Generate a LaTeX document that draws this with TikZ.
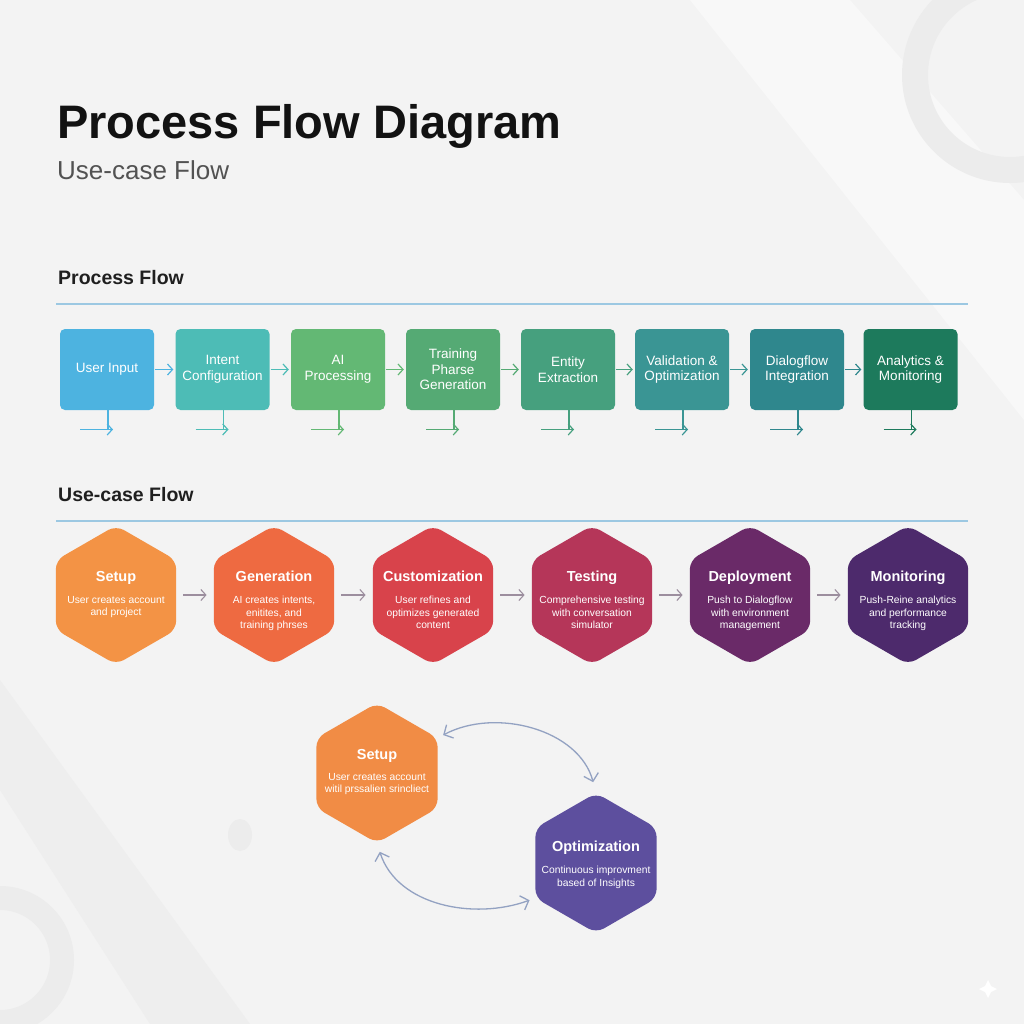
\documentclass[tikz,border=0pt]{standalone}
\usepackage{fontspec}
\setmainfont{Liberation Sans}
\usetikzlibrary{shapes.geometric,arrows.meta}
\definecolor{bg}{HTML}{F3F3F3}
\definecolor{deco}{HTML}{ECECEC}
\definecolor{sectline}{HTML}{9CC8E2}
\definecolor{hexarrow}{HTML}{9C8E9E}
\definecolor{cyclearrow}{HTML}{93A2C2}
\definecolor{pa}{HTML}{4DB3E0}
\definecolor{pb}{HTML}{4DBCB6}
\definecolor{pc}{HTML}{63B874}
\definecolor{pd}{HTML}{55AA74}
\definecolor{pe}{HTML}{46A07E}
\definecolor{pf}{HTML}{3A9594}
\definecolor{pg}{HTML}{2F878D}
\definecolor{ph}{HTML}{1D7A5C}
\definecolor{ha}{HTML}{F39345}
\definecolor{hb}{HTML}{EE6A41}
\definecolor{hc}{HTML}{D8434B}
\definecolor{hd}{HTML}{B53659}
\definecolor{he}{HTML}{6A2A68}
\definecolor{hf}{HTML}{4D2A6C}
\definecolor{sa}{HTML}{F18C45}
\definecolor{oa}{HTML}{5D4F9E}
\tikzset{
  pbox/.style={rectangle, rounded corners=5pt, minimum width=94pt, minimum height=81pt,
    inner sep=0pt, text=white, align=center, font=\fontsize{13.5}{15.5}\selectfont},
  hexa/.style={regular polygon, regular polygon sides=6, shape border rotate=30,
    minimum size=139pt, inner sep=0pt, rounded corners=9pt},
  htitle/.style={text=white, anchor=base, font=\bfseries\fontsize{14.5}{17}\selectfont, inner sep=0pt},
  hdesc/.style={text=white, anchor=north, align=center, font=\fontsize{10.3}{12.5}\selectfont, inner sep=0pt},
  flowarrow/.style={line width=1.2pt, -{Straight Barb[length=5pt,width=11pt]}},
  hexarr/.style={line width=1.1pt, hexarrow, -{Straight Barb[length=5pt,width=11pt]}, shorten <=7pt, shorten >=7pt},
  cyc/.style={line width=1.3pt, cyclearrow, {Straight Barb[length=7pt,width=15pt]}-{Straight Barb[length=7pt,width=15pt]}},
  secttitle/.style={anchor=base west, inner sep=0pt, font=\bfseries\fontsize{19.5}{22}\selectfont, text=black!88},
}
\begin{document}
\begin{tikzpicture}[x=1pt,y=1pt]
\fill[bg] (0,0) rectangle (1024,-1024);
\useasboundingbox (0,0) rectangle (1024,-1024);
% background decoration
\fill[white,opacity=0.45] (690,0) -- (850,0) -- (1024,-200) -- (1024,-420) -- cycle;
\draw[deco,line width=26pt] (1010,-75) circle (95);
\fill[deco,opacity=0.7] (0,-680) -- (0,-790) -- (150,-1024) -- (250,-1024) -- cycle;
\draw[deco,line width=24pt] (0,-960) circle (62);
\fill[deco] (240,-835) ellipse (12 and 16);
\fill[white] (988,-980) -- (991,-986) -- (997,-989) -- (991,-992) -- (988,-998) -- (985,-992) -- (979,-989) -- (985,-986) -- cycle;

% titles
\node[anchor=base west, inner sep=0pt, font=\bfseries\fontsize{47}{54}\selectfont, text=black!93] (title) at (57,-139) {Process Flow Diagram};
\node[anchor=base west, inner sep=0pt, font=\fontsize{26}{30}\selectfont, text=black!68] (subtitle) at (57,-180) {Use-case Flow};

% section 1
\node[secttitle] (s1title) at (58,-284) {Process Flow};
\coordinate (s1l) at (56,-304); \coordinate (s1r) at (968,-304);
\draw[sectline, line width=2pt] (s1l) -- (s1r);

\foreach \i/\x/\col/\txt in {1/107/pa/{User Input},2/222.5/pb/{Intent\\Configuration},3/338/pc/{AI\\Processing},4/453/pd/{Training\\Pharse\\Generation},5/568/pe/{Entity\\Extraction},6/682/pf/{Validation \&\\Optimization},7/797/pg/{Dialogflow\\Integration},8/910.5/ph/{Analytics \&\\Monitoring}}{
  \node[pbox, fill=\col] (b\i) at (\x,-369.5) {\txt};
  \coordinate (v\i) at ({\x+1},-429.5);
  \coordinate (l\i) at ({\x-27},-429.5);
  \coordinate (r\i) at ({\x+6},-429.5);
  \draw[\col, line width=1.2pt] (b\i.south -| v\i) -- (v\i);
  \draw[flowarrow, \col] (l\i) -- (r\i);
}
\foreach \i/\j/\col in {1/2/pa,2/3/pb,3/4/pc,4/5/pd,5/6/pe,6/7/pf,7/8/pg}{
  \draw[flowarrow, \col, shorten <=1pt, shorten >=2pt] (b\i.east) -- (b\j.west);
}

% section 2
\node[secttitle] (s2title) at (58,-501) {Use-case Flow};
\coordinate (s2l) at (56,-521); \coordinate (s2r) at (968,-521);
\draw[sectline, line width=2pt] (s2l) -- (s2r);

\foreach \i/\x/\col/\ttl/\dsc in {
  1/116/ha/{Setup}/{User creates account\\and project},
  2/274/hb/{Generation}/{AI creates intents,\\enitites, and\\training phrses},
  3/433/hc/{Customization}/{User refines and\\optimizes generated\\content},
  4/592/hd/{Testing}/{Comprehensive testing\\with conversation\\simulator},
  5/750/he/{Deployment}/{Push to Dialogflow\\with environment\\management},
  6/908/hf/{Monitoring}/{Push-Reine analytics\\and performance\\tracking}}{
  \node[hexa, fill=\col] (h\i) at (\x,-595) {};
  \node[htitle] (h\i t) at (\x,-581) {\ttl};
  \node[hdesc] (h\i d) at (\x,-596) {\dsc};
}
\foreach \i/\j in {1/2,2/3,3/4,4/5,5/6}{
  \draw[hexarr] (h\i.east) -- (h\j.west);
}

% cycle
\node[hexa, fill=sa, minimum size=140pt] (cs) at (377,-773) {};
\node[htitle] (cst) at (377,-759) {Setup};
\node[hdesc] (csd) at (377,-773) {User creates account\\witil prssalien srincliect};
\node[hexa, fill=oa, minimum size=140pt] (co) at (596,-863) {};
\node[htitle] (cot) at (596,-851) {Optimization};
\node[hdesc] (cod) at (596,-866) {Continuous improvment\\based of Insights};

\draw[cyc, shorten <=6pt, shorten >=11pt] (cs.30) to[out=28, in=105] (co.north);
\draw[cyc, shorten <=9pt, shorten >=6pt] (cs.south) to[out=-72, in=200] (co.210);
\end{tikzpicture}
\end{document}
